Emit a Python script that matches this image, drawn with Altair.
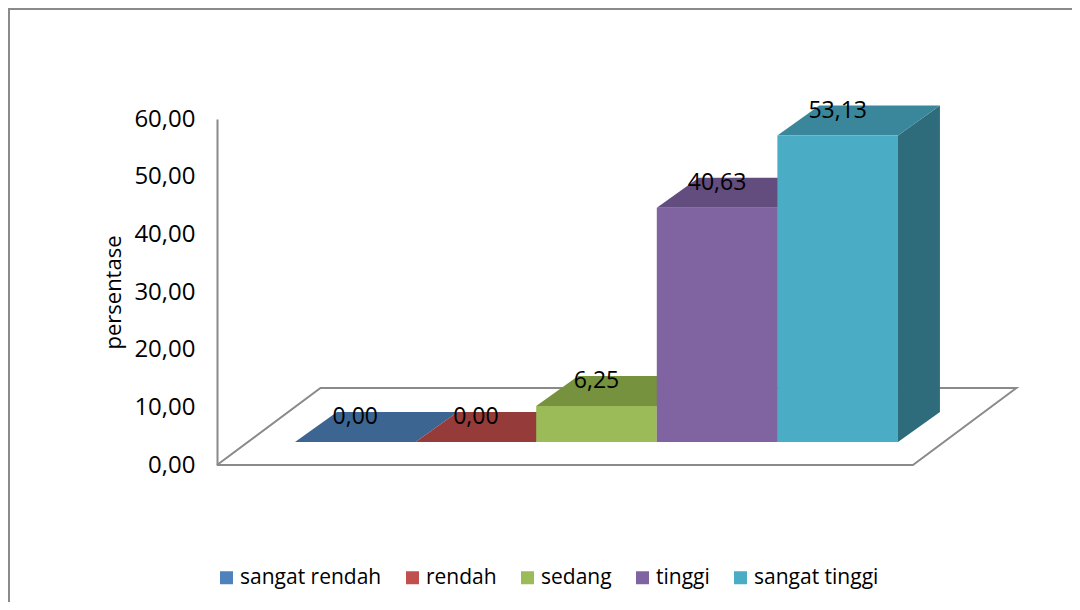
import altair as alt
import pandas as pd

# ---- data ----
categories = ["sangat rendah", "rendah", "sedang", "tinggi", "sangat tinggi"]
values = [0.00, 0.00, 6.25, 40.63, 53.13]
y_ticks = [0, 10, 20, 30, 40, 50, 60]

# ---- style ----
front_colors = ["#4F81BD", "#C0504D", "#9BBB59", "#8064A2", "#4BACC6"]
top_colors = ["#3D6592", "#953B39", "#77923F", "#634C7E", "#3A879B"]
side_colors = ["#2F4D70", "#72302E", "#5B7131", "#4B3A61", "#2F6C7B"]

FONT = "Open Sans"
BASE = 3.99      # bars stand this far above the front edge of the floor (y units)
DX = 0.348       # depth of a bar, horizontal part (x units)
DY = 5.2         # depth of a bar, vertical part (y units)
X_MIN, X_MAX = -1.147, 5.487
FLOOR_BACK = 13.35
FLOOR_SHIFT = 0.858
FLOOR_FRONT_RIGHT = 4.624

def fmt(v):
    return f"{v:.2f}".replace(".", ",")

front = pd.DataFrame({
    "cat": categories,
    "idx": list(range(len(categories))),
    "value": values,
})
front["x0"] = front["idx"] - 0.5
front["x1"] = front["idx"] + 0.5
front["y0"] = BASE
front["y1"] = front["value"] + BASE
front["label"] = [fmt(v) for v in values]

top_rows = []
side_rows = []
for i, (c, v) in enumerate(zip(categories, values)):
    top_rows.append(dict(cat=c, idx=i, ty=v + BASE, tx0=i - 0.5, tx1=i + 0.5))
    top_rows.append(dict(cat=c, idx=i, ty=v + BASE + DY, tx0=i - 0.5 + DX, tx1=i + 0.5 + DX))
    side_rows.append(dict(cat=c, idx=i, sx=i + 0.5, sy0=BASE, sy1=v + BASE))
    side_rows.append(dict(cat=c, idx=i, sx=i + 0.5 + DX, sy0=BASE + DY, sy1=v + BASE + DY))
top = pd.DataFrame(top_rows)
side = pd.DataFrame(side_rows)

floor = pd.DataFrame({
    "fx": [X_MIN, FLOOR_FRONT_RIGHT, FLOOR_FRONT_RIGHT + FLOOR_SHIFT, X_MIN + FLOOR_SHIFT, X_MIN],
    "fy": [0, 0, FLOOR_BACK, FLOOR_BACK, 0],
    "o": [0, 1, 2, 3, 4],
})

xs = alt.Scale(domain=[X_MIN, X_MAX], nice=False, zero=False)
ys = alt.Scale(domain=[0, 60], nice=False, zero=False)

y_axis = alt.Axis(
    values=y_ticks,
    labelExpr="replace(format(datum.value, '.2f'), '.', ',')",
    title="persentase",
    titleFontSize=22, titleFontWeight="normal", titleColor="#000000",
    titleFont=FONT, titlePadding=8,
    labelFontSize=24, labelColor="#000000", labelFont=FONT, labelPadding=22,
    ticks=False, grid=False, domainColor="#8A8A8A", domainWidth=2,
)

border = alt.Chart(pd.DataFrame({"a": [0]})).mark_rect(
    filled=False, stroke="#8A8A8A", strokeWidth=2
).encode(
    x=alt.value(-208), x2=alt.value(1100), y=alt.value(-110), y2=alt.value(700)
)

floor_l = alt.Chart(floor).mark_line(color="#8A8A8A", strokeWidth=2).encode(
    x=alt.X("fx:Q", scale=xs, axis=None),
    y=alt.Y("fy:Q", scale=ys, axis=y_axis),
    order="o:Q",
)

side_l = alt.Chart(side).mark_area().encode(
    x=alt.X("sx:Q", scale=xs, axis=None),
    y=alt.Y("sy0:Q", scale=ys, axis=y_axis),
    y2="sy1:Q",
    detail="idx:N",
    color=alt.Color("cat:N", scale=alt.Scale(domain=categories, range=side_colors), legend=None),
)

top_l = alt.Chart(top).mark_area(orient="horizontal").encode(
    y=alt.Y("ty:Q", scale=ys, axis=y_axis),
    x=alt.X("tx0:Q", scale=xs, axis=None),
    x2="tx1:Q",
    detail="idx:N",
    color=alt.Color("cat:N", scale=alt.Scale(domain=categories, range=top_colors), legend=None),
)

front_l = alt.Chart(front).mark_rect().encode(
    x=alt.X("x0:Q", scale=xs, axis=None),
    x2="x1:Q",
    y=alt.Y("y0:Q", scale=ys, axis=y_axis),
    y2="y1:Q",
    color=alt.Color("cat:N", sort=categories,
                    scale=alt.Scale(domain=categories, range=front_colors),
                    legend=alt.Legend(
                        orient="none", legendX=-1, legendY=448, direction="horizontal",
                        title=None, symbolType="square", symbolSize=169,
                        symbolStrokeWidth=0, symbolOpacity=1,
                        labelFontSize=21, labelFont=FONT, labelColor="#000000",
                        labelOffset=3, columnPadding=20,
                    )),
)

text_l = alt.Chart(front).mark_text(
    font=FONT, fontSize=23, color="#000000", baseline="alphabetic", dy=-18
).encode(
    x=alt.X("idx:Q", scale=xs, axis=None),
    y=alt.Y("y1:Q", scale=ys, axis=y_axis),
    text="label:N",
)

chart = alt.layer(border, floor_l, side_l, top_l, front_l, text_l).resolve_scale(
    color="independent"
).properties(
    width=800, height=346,
    autosize=alt.AutoSizeParams(type="none"),
    padding={"left": 209, "top": 111, "right": 55, "bottom": 137},
).configure(font=FONT, background="#FFFFFF").configure_view(stroke=None)

chart.save("out.html", embed_options={"renderer": "svg", "actions": False})
